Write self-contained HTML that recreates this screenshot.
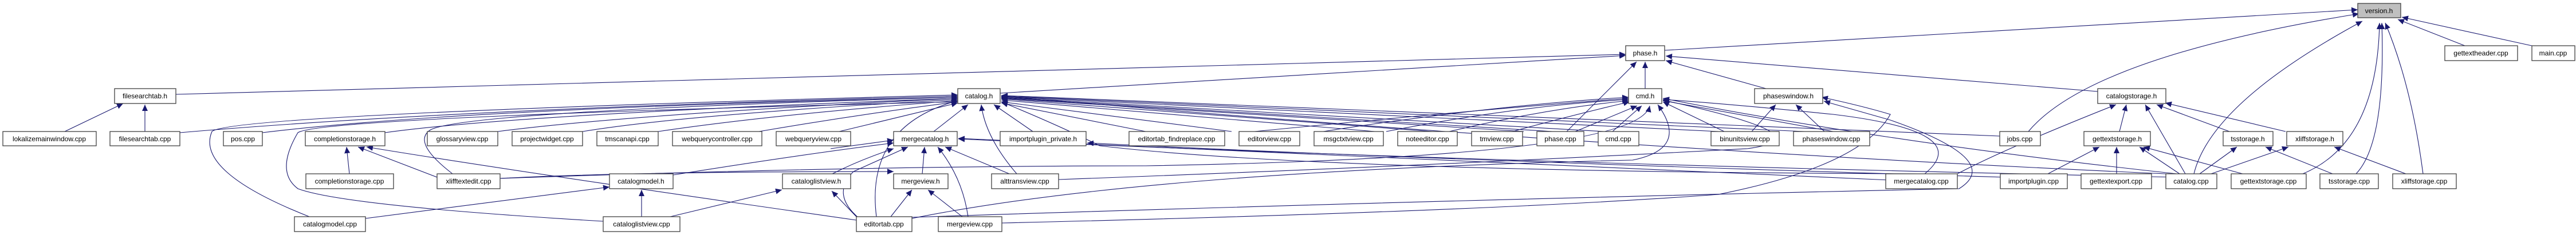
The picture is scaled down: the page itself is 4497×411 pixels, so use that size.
<!DOCTYPE html>
<html><head><meta charset="utf-8"><style>
html,body{margin:0;padding:0;background:#fff;}
svg{display:block;}
text{font-family:"Liberation Sans",sans-serif;font-size:12px;fill:#000;text-anchor:middle;}
.n{fill:#fff;stroke:#404040;stroke-width:1.3;}
.e{fill:none;stroke:#191970;stroke-width:1.1;marker-end:url(#a);}
</style></head><body>
<svg width="4497" height="411" viewBox="0 0 4497 411" xmlns="http://www.w3.org/2000/svg">
<defs><marker id="a" markerUnits="userSpaceOnUse" markerWidth="12" markerHeight="10" refX="11" refY="5" orient="auto"><polygon points="0,0 11,5 0,10" fill="#191970"/></marker></defs>
<g>
<!-- to version.h -->
<path class="e" d="M2906,88 L4116,17"/>
<path class="e" d="M3541,230 Q3650,100 4118,24"/>
<path class="e" d="M3830,304 Q3860,180 4124,37"/>
<path class="e" d="M4020,304 Q4150,250 4154,40"/>
<path class="e" d="M4113,304 Q4165,250 4158,40"/>
<path class="e" d="M4230,304 Q4210,150 4164,40"/>
<path class="e" d="M4303,80 L4186,34"/>
<path class="e" d="M4420,80 L4193,30"/>
<!-- to phase.h -->
<path class="e" d="M1746,163 L2838,97"/>
<path class="e" d="M307,165 L2838,95"/>
<path class="e" d="M2872,155 L2872,108"/>
<path class="e" d="M2735,230 L2857,108"/>
<path class="e" d="M3662,160 L2908,98"/>
<path class="e" d="M3083,155 L2908,106"/>
<!-- to catalog.h from left -->
<path class="e" d="M314,232 Q800,190 1672,168"/>
<path class="e" d="M458,232 Q800,190 1672,170"/>
<path class="e" d="M672,232 Q900,200 1672,172"/>
<path class="e" d="M869,230 Q1100,200 1672,172"/>
<path class="e" d="M1017,230 Q1200,200 1672,174"/>
<path class="e" d="M1149,230 Q1350,200 1672,176"/>
<path class="e" d="M1325,230 Q1500,200 1672,178"/>
<path class="e" d="M1465,230 L1672,180"/>
<path class="e" d="M540,379 Q340,300 370,230 Q400,200 1672,166"/>
<path class="e" d="M790,304 Q720,250 750,228 Q800,195 1672,170"/>
<path class="e" d="M1530,379 Q1510,220 1672,176"/>
<path class="e" d="M1630,230 L1690,183"/>
<path class="e" d="M1775,304 Q1720,240 1713,183"/>
<path class="e" d="M1803,230 L1735,183"/>
<!-- to catalog.h from right -->
<path class="e" d="M2000,230 L1748,180"/>
<path class="e" d="M2150,230 L1748,178"/>
<path class="e" d="M2400,230 L1748,175"/>
<path class="e" d="M2500,230 L1748,173"/>
<path class="e" d="M2660,230 L1748,172"/>
<path class="e" d="M2710,230 L1748,171"/>
<path class="e" d="M2800,230 L1748,170"/>
<path class="e" d="M3000,230 L1748,169"/>
<path class="e" d="M3150,230 L1748,168"/>
<path class="e" d="M3491,238 L1748,167"/>
<path class="e" d="M3781,304 Q2800,260 1748,168"/>
<path class="e" d="M3350,304 Q2300,300 1920,255 Q1850,220 1748,178"/>
<!-- to cmd.h -->
<path class="e" d="M2190,230 Q2600,190 2843,172"/>
<path class="e" d="M2310,230 Q2600,185 2843,170"/>
<path class="e" d="M2420,230 Q2650,185 2843,174"/>
<path class="e" d="M2530,230 Q2700,190 2843,176"/>
<path class="e" d="M2640,230 Q2750,200 2845,178"/>
<path class="e" d="M2750,230 L2858,185"/>
<path class="e" d="M2815,230 L2866,185"/>
<path class="e" d="M873,312 Q1500,290 2000,290 Q2860,275 2880,185"/>
<path class="e" d="M1592,382 Q2000,300 2850,280 Q2950,260 2894,183"/>
<path class="e" d="M3010,230 L2903,178"/>
<path class="e" d="M3200,230 L2903,176"/>
<path class="e" d="M3360,304 Q3450,230 3200,200 Q3000,180 2903,174"/>
<path class="e" d="M3800,304 Q3300,250 2903,172"/>
<path class="e" d="M1848,314 Q2500,290 3050,260 Q3200,240 2903,175"/>
<!-- mergecatalog.h -->
<path class="e" d="M1610,304 L1614,257"/>
<path class="e" d="M1690,379 Q1680,310 1637,257"/>
<path class="e" d="M1762,304 L1650,257"/>
<path class="e" d="M1500,382 Q1450,340 1490,300 L1585,257"/>
<path class="e" d="M1450,260 L1560,245"/>
<path class="e" d="M3300,315 Q2500,280 1673,242"/>
<path class="e" d="M3800,310 Q2600,285 1673,243"/>
<path class="e" d="M3500,310 Q2500,280 1898,250"/>
<!-- mergeview.h -->
<path class="e" d="M1555,379 L1592,332"/>
<path class="e" d="M1680,379 L1620,332"/>
<!-- catalogmodel.h -->
<path class="e" d="M1120,379 L1120,332"/>
<path class="e" d="M638,382 L1064,327"/>
<path class="e" d="M1175,306 Q1400,270 1560,250"/>
<!-- cataloglistview.h -->
<path class="e" d="M1170,379 L1365,332"/>
<path class="e" d="M1495,379 L1452,334"/>
<path class="e" d="M1453,304 Q1500,280 1560,260"/>
<!-- completionstorage.h -->
<path class="e" d="M610,304 L605,257"/>
<path class="e" d="M763,310 L625,257"/>
<path class="e" d="M1495,385 Q900,300 640,257"/>
<path class="e" d="M873,312 Q1100,300 1560,300"/>
<path class="e" d="M1053,387 Q600,360 520,330 Q480,300 520,232 Q560,205 1672,178"/>
<!-- filesearchtab.h -->
<path class="e" d="M113,230 L215,181"/>
<path class="e" d="M253,230 L253,183"/>
<!-- phaseswindow.h -->
<path class="e" d="M3058,230 L3100,183"/>
<path class="e" d="M3185,230 L3135,183"/>
<path class="e" d="M1592,380 Q2500,350 3420,330 Q3500,280 3300,210 Q3230,190 3184,177"/>
<path class="e" d="M1749,390 Q2600,370 3000,340 Q3250,290 3300,200 Q3250,185 3180,170"/>
<!-- catalogstorage.h -->
<path class="e" d="M3700,230 L3712,183"/>
<path class="e" d="M3417,304 Q3500,260 3694,183"/>
<path class="e" d="M3892,230 L3765,183"/>
<path class="e" d="M3990,230 L3780,180"/>
<path class="e" d="M3815,304 L3745,183"/>
<!-- gettextstorage.h -->
<path class="e" d="M3575,304 L3665,257"/>
<path class="e" d="M3695,304 L3695,257"/>
<path class="e" d="M3915,304 L3742,257"/>
<path class="e" d="M3805,304 L3735,257"/>
<!-- tsstorage.h / xliffstorage.h -->
<path class="e" d="M3840,304 L3905,257"/>
<path class="e" d="M4072,304 L3955,257"/>
<path class="e" d="M3860,304 L3995,257"/>
<path class="e" d="M4200,304 L4075,257"/>
</g>
<g>
<rect class="n" x="4116" y="6" width="75" height="25" style="fill:#bfbfbf"/><text x="4153" y="23">version.h</text>
<rect class="n" x="2838" y="80" width="68" height="26"/><text x="2872" y="97">phase.h</text>
<rect class="n" x="4268" y="80" width="127" height="26"/><text x="4331" y="97">gettextheader.cpp</text>
<rect class="n" x="4420" y="80" width="75" height="26"/><text x="4457" y="97">main.cpp</text>
<rect class="n" x="200" y="155" width="107" height="26"/><text x="253" y="172">filesearchtab.h</text>
<rect class="n" x="1672" y="155" width="74" height="26"/><text x="1709" y="172">catalog.h</text>
<rect class="n" x="2843" y="155" width="58" height="26"/><text x="2872" y="172">cmd.h</text>
<rect class="n" x="3063" y="155" width="119" height="26"/><text x="3122" y="172">phaseswindow.h</text>
<rect class="n" x="3662" y="155" width="119" height="26"/><text x="3721" y="172">catalogstorage.h</text>
<rect class="n" x="5" y="230" width="163" height="25"/><text x="86" y="247">lokalizemainwindow.cpp</text>
<rect class="n" x="192" y="230" width="122" height="25"/><text x="253" y="247">filesearchtab.cpp</text>
<rect class="n" x="390" y="230" width="68" height="25"/><text x="424" y="247">pos.cpp</text>
<rect class="n" x="533" y="230" width="139" height="25"/><text x="602" y="247">completionstorage.h</text>
<rect class="n" x="746" y="230" width="123" height="25"/><text x="807" y="247">glossaryview.cpp</text>
<rect class="n" x="894" y="230" width="123" height="25"/><text x="955" y="247">projectwidget.cpp</text>
<rect class="n" x="1042" y="230" width="107" height="25"/><text x="1095" y="247">tmscanapi.cpp</text>
<rect class="n" x="1174" y="230" width="156" height="25"/><text x="1252" y="247">webquerycontroller.cpp</text>
<rect class="n" x="1355" y="230" width="130" height="25"/><text x="1420" y="247">webqueryview.cpp</text>
<rect class="n" x="1560" y="230" width="111" height="25"/><text x="1615" y="247">mergecatalog.h</text>
<rect class="n" x="1746" y="230" width="150" height="25"/><text x="1821" y="247">importplugin_private.h</text>
<rect class="n" x="1971" y="230" width="167" height="25"/><text x="2054" y="247">editortab_findreplace.cpp</text>
<rect class="n" x="2163" y="230" width="106" height="25"/><text x="2216" y="247">editorview.cpp</text>
<rect class="n" x="2294" y="230" width="121" height="25"/><text x="2354" y="247">msgctxtview.cpp</text>
<rect class="n" x="2440" y="230" width="104" height="25"/><text x="2492" y="247">noteeditor.cpp</text>
<rect class="n" x="2569" y="230" width="89" height="25"/><text x="2613" y="247">tmview.cpp</text>
<rect class="n" x="2683" y="230" width="82" height="25"/><text x="2724" y="247">phase.cpp</text>
<rect class="n" x="2790" y="230" width="71" height="25"/><text x="2825" y="247">cmd.cpp</text>
<rect class="n" x="2987" y="230" width="119" height="25"/><text x="3046" y="247">binunitsview.cpp</text>
<rect class="n" x="3131" y="230" width="133" height="25"/><text x="3197" y="247">phaseswindow.cpp</text>
<rect class="n" x="3491" y="230" width="71" height="25"/><text x="3526" y="247">jobs.cpp</text>
<rect class="n" x="3638" y="230" width="116" height="25"/><text x="3696" y="247">gettextstorage.h</text>
<rect class="n" x="3881" y="230" width="87" height="25"/><text x="3924" y="247">tsstorage.h</text>
<rect class="n" x="3992" y="230" width="98" height="25"/><text x="4041" y="247">xliffstorage.h</text>
<rect class="n" x="534" y="304" width="153" height="26"/><text x="610" y="321">completionstorage.cpp</text>
<rect class="n" x="763" y="304" width="110" height="26"/><text x="818" y="321">xlifftextedit.cpp</text>
<rect class="n" x="1064" y="304" width="111" height="26"/><text x="1119" y="321">catalogmodel.h</text>
<rect class="n" x="1366" y="304" width="119" height="26"/><text x="1425" y="321">cataloglistview.h</text>
<rect class="n" x="1560" y="304" width="95" height="26"/><text x="1607" y="321">mergeview.h</text>
<rect class="n" x="1731" y="304" width="117" height="26"/><text x="1789" y="321">alttransview.cpp</text>
<rect class="n" x="3292" y="304" width="125" height="26"/><text x="3354" y="321">mergecatalog.cpp</text>
<rect class="n" x="3492" y="304" width="117" height="26"/><text x="3550" y="321">importplugin.cpp</text>
<rect class="n" x="3633" y="304" width="123" height="26"/><text x="3694" y="321">gettextexport.cpp</text>
<rect class="n" x="3781" y="304" width="89" height="26"/><text x="3825" y="321">catalog.cpp</text>
<rect class="n" x="3895" y="304" width="131" height="26"/><text x="3960" y="321">gettextstorage.cpp</text>
<rect class="n" x="4050" y="304" width="102" height="26"/><text x="4101" y="321">tsstorage.cpp</text>
<rect class="n" x="4177" y="304" width="111" height="26"/><text x="4232" y="321">xliffstorage.cpp</text>
<rect class="n" x="514" y="379" width="124" height="26"/><text x="576" y="396">catalogmodel.cpp</text>
<rect class="n" x="1053" y="379" width="134" height="26"/><text x="1120" y="396">cataloglistview.cpp</text>
<rect class="n" x="1495" y="379" width="97" height="26"/><text x="1543" y="396">editortab.cpp</text>
<rect class="n" x="1638" y="379" width="111" height="26"/><text x="1693" y="396">mergeview.cpp</text>
</g>
</svg>
</body></html>
